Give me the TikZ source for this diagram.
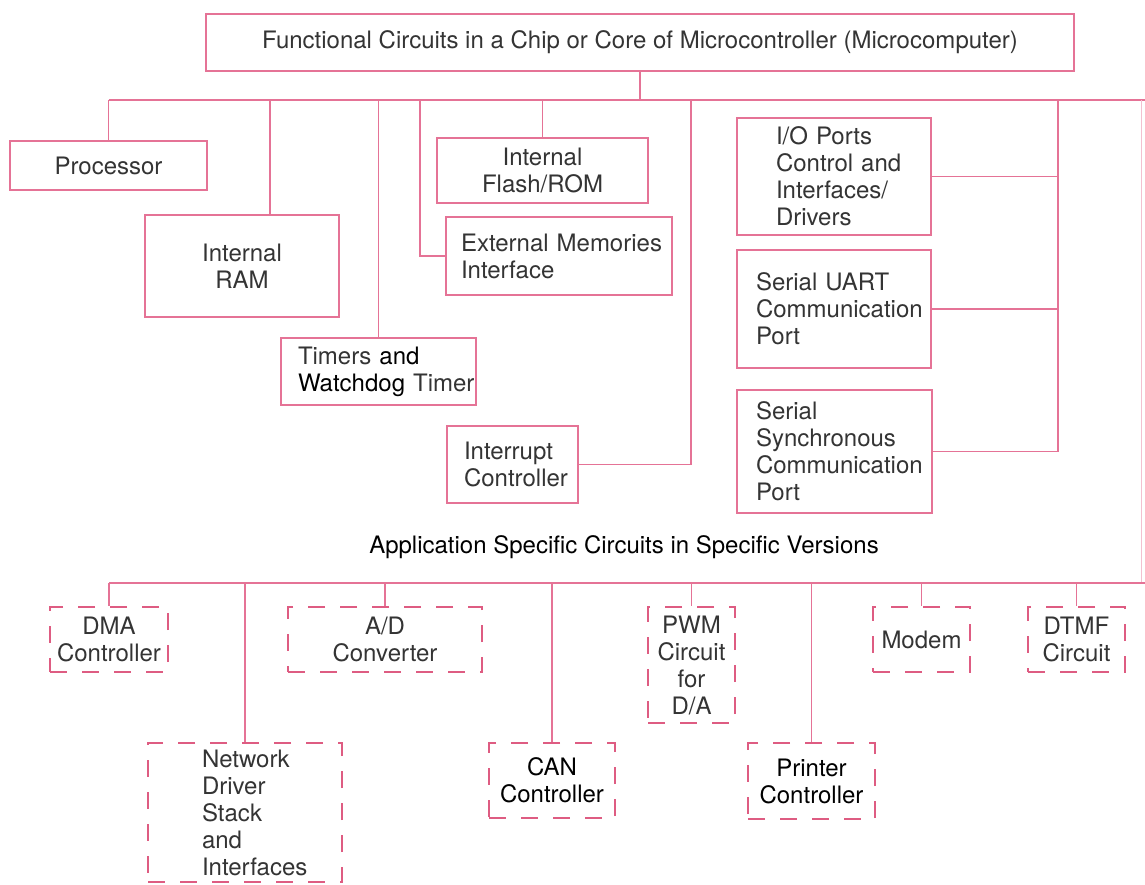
\documentclass[tikz,border=0pt]{standalone}
\usepackage{fontspec}
\setmainfont{TeX Gyre Heros}
\definecolor{wire}{RGB}{229,115,150}
\definecolor{optwire}{RGB}{222,92,130}
\definecolor{ink}{RGB}{52,52,52}
\newcommand\dark[1]{\textcolor{black}{#1}}
\begin{document}
\begin{tikzpicture}[x=1pt,y=-1pt,
  every node/.style={font=\fontsize{24}{27}\selectfont, text=ink},
  block/.style={draw=wire, line width=1.8pt, rectangle, inner sep=0pt, align=center},
  leftblock/.style={block, align=left, text width=#1},
  option/.style={draw=optwire, line width=2.2pt, dash pattern=on 17pt off 15pt,
                 rectangle, inner sep=0pt, align=center},
  link/.style={draw=wire, line width=1.6pt}]

\fill[white] (0,0) rectangle (1145,884);
\useasboundingbox (0,0) rectangle (1145,884);

% ---- core of the microcontroller ----
\node[block, minimum width=868pt, minimum height=57pt] (top) at (640,42.5)
  {Functional Circuits in a Chip or Core of Microcontroller (Microcomputer)};

\node[block, minimum width=197pt, minimum height=49pt] (proc) at (108.5,165.5) {Processor};
\node[block, minimum width=194pt, minimum height=102pt] (ram) at (242,266) {Internal\\RAM};
\node[block, minimum width=211pt, minimum height=65pt] (flash) at (542.5,170.5) {Internal\\Flash/ROM};
\node[leftblock=226pt, minimum height=78pt] (ext) at (559,256)
  {\leftskip=15pt External Memories\\Interface\par};
\node[leftblock=195pt, minimum height=67pt] (timers) at (378.5,371.5)
  {\leftskip=17pt Timers \dark{and}\\\dark{Watchdog} Timer\par};
\node[leftblock=131pt, minimum height=77pt] (int) at (512.5,464.5)
  {\leftskip=17pt Interrupt\\Controller\par};
\node[leftblock=194pt, minimum height=117pt] (io) at (834,176.5)
  {\leftskip=39pt I/O Ports\\Control and\\Interfaces/\\Drivers\par};
\node[leftblock=194pt, minimum height=118pt] (uart) at (834,309)
  {\leftskip=19pt Serial UART\\Communication\\Port\par};
\node[leftblock=195pt, minimum height=123pt] (ssc) at (834.5,451.5)
  {\leftskip=19pt Serial\\Synchronous\\Communication\\Port\par};

% ---- optional, application specific circuits ----
\node[text=black] (asc) at (624,547) {Application Specific Circuits in Specific Versions};

\node[option, minimum width=118pt, minimum height=65pt] (dma) at (109,639.5) {DMA\\Controller};
\node[option, align=left, text width=194pt, minimum height=139pt] (net) at (245,812.5)
  {\leftskip=54pt Network\\Driver\\Stack\\and\\Interfaces\par};
\node[option, minimum width=194pt, minimum height=65pt] (ad) at (385,639.5) {A/D\\Converter};
\node[option, minimum width=126pt, minimum height=75pt, text=black] (can) at (552,780.5) {CAN\\Controller};
\node[option, minimum width=87pt, minimum height=116pt] (pwm) at (691.5,665) {PWM\\Circuit\\for\\D/A};
\node[option, minimum width=127pt, minimum height=76pt, text=black] (prn) at (811.5,781) {Printer\\Controller};
\node[option, minimum width=97pt, minimum height=65pt] (modem) at (921.5,639.5) {Modem};
\node[option, minimum width=97pt, minimum height=65pt] (dtmf) at (1076.5,639.5) {DTMF\\Circuit};

% ---- upper bus ----
\coordinate (busW) at (108.5,100);
\coordinate (busE) at (1145,100);
\coordinate (ramTap) at (270,100);
\coordinate (extTap) at (420,100);
\coordinate (intTap) at (691,100);
\coordinate (serTap) at (1058,100);

\draw[link] (top.south) -- (top.south |- busW);
\draw[link] (busW) -- (busE);
\draw[link] (proc.north) -- (proc.north |- busW);
\draw[link] (ramTap) -- (ramTap |- ram.north);
\draw[link] (timers.north) -- (timers.north |- busW);
\draw[link] (extTap) |- (ext.west);
\draw[link] (flash.north) -- (flash.north |- busW);
\draw[link] (intTap) |- (int.east);
\draw[link] (serTap) |- (ssc.east);
\draw[link] (io.east) -- (io.east -| serTap);
\draw[link] (uart.east) -- (uart.east -| serTap);

% ---- lower bus ----
\coordinate (busSW) at (109,583);
\coordinate (busSE) at (1145,583);
\coordinate (edgeN) at (1141,100);
\coordinate (edgeS) at (1141,583);

\draw[draw=wire!45, line width=1pt] (edgeN) -- (edgeS);
\draw[link] (busSW) -- (busSE);
\foreach \n in {dma,net,ad,can,pwm,prn,modem,dtmf}
  \draw[link] (\n.north) -- (\n.north |- busSW);

\end{tikzpicture}
\end{document}
